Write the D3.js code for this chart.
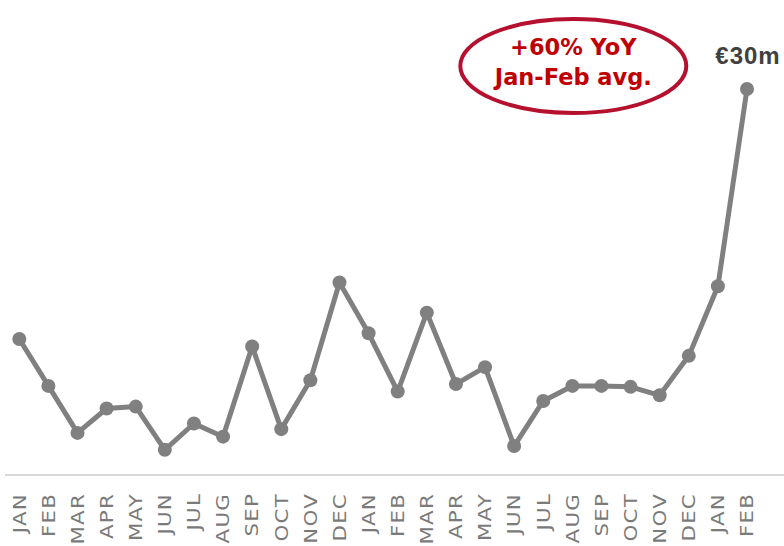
<!DOCTYPE html>
<html>
<head>
<meta charset="utf-8">
<script src="https://cdn.jsdelivr.net/npm/d3@7"></script>
<style>
  html, body { margin: 0; padding: 0; background: #fff; }
  svg { display: block; }
</style>
</head>
<body>
<svg id="chart" width="784" height="546"></svg>
<script>
// monthly values, €m (Jan 2020 .. Feb 2022)
var months = ['JAN', 'FEB', 'MAR', 'APR', 'MAY', 'JUN', 'JUL', 'AUG', 'SEP', 'OCT', 'NOV', 'DEC',
  'JAN', 'FEB', 'MAR', 'APR', 'MAY', 'JUN', 'JUL', 'AUG', 'SEP', 'OCT', 'NOV', 'DEC',
  'JAN', 'FEB']
var values = [16.7, 14.2, 11.7, 13.0, 13.1, 10.8, 12.2, 11.5, 16.3, 11.9, 14.5, 19.7,
  17.0, 13.9, 18.1, 14.3, 15.2, 11.0, 13.4, 14.2, 14.2, 14.15, 13.7, 15.8,
  19.5, 30]
var lastLabel = '€30m'
var noteLines = ['+60% YoY', 'Jan-Feb avg.']

var svg = d3.select('#chart')
var idx = d3.range(values.length)

var x = d3.scalePoint().domain(idx).range([19.3, 747])
var y = d3.scaleLinear().domain([9.46, 30]).range([475, 89])

// baseline
svg.append('line')
  .attr('x1', 5).attr('x2', 784)
  .attr('y1', y(9.46)).attr('y2', y(9.46))
  .attr('stroke', '#d9d9d9')
  .attr('stroke-width', 2)

// month labels (stretched a bit along the text, the original font is wide)
svg.append('g')
  .selectAll('text')
  .data(idx)
  .enter()
  .append('text')
  .attr('transform', function (i) { return 'translate(' + (x(i) + 6.3) + ',493) rotate(-90) scale(1.22,1)' })
  .attr('text-anchor', 'end')
  .style('font-family', 'DejaVu Sans, sans-serif')
  .style('font-size', '17.5px')
  .style('letter-spacing', '1px')
  .style('fill', '#7a7a7a')
  .text(function (i) { return months[i] })

var line = d3.line()
  .x(function (d, i) { return x(i) })
  .y(function (d) { return y(d) })

svg.append('path')
  .datum(values)
  .attr('d', line)
  .attr('fill', 'none')
  .attr('stroke', '#808080')
  .attr('stroke-width', 5)
  .attr('stroke-linejoin', 'round')

svg.append('g')
  .selectAll('circle')
  .data(values)
  .enter()
  .append('circle')
  .attr('cx', function (d, i) { return x(i) })
  .attr('cy', function (d) { return y(d) })
  .attr('r', 7)
  .attr('fill', '#808080')

// value label on last point
var last = values.length - 1
svg.append('text')
  .attr('x', x(last) + 1)
  .attr('y', y(values[last]) - 25.5)
  .attr('text-anchor', 'middle')
  .style('font-family', 'Liberation Sans, Arial, sans-serif')
  .style('font-weight', 'bold')
  .style('font-size', '24px')
  .style('letter-spacing', '1px')
  .style('fill', '#404040')
  .text(lastLabel)

// callout
var note = svg.append('g').attr('transform', 'translate(573.3,66)')
note.append('ellipse')
  .attr('rx', 113).attr('ry', 47)
  .attr('fill', '#fff')
  .attr('stroke', '#b5102e')
  .attr('stroke-width', 4)
note.selectAll('text')
  .data(noteLines)
  .enter()
  .append('text')
  .attr('y', function (d, i) { return i === 0 ? -11 : 19 })
  .attr('text-anchor', 'middle')
  .style('font-family', 'DejaVu Sans, sans-serif')
  .style('font-weight', 'bold')
  .style('font-size', '22.5px')
  .style('fill', '#c00000')
  .text(function (d) { return d })
</script>
</body>
</html>
